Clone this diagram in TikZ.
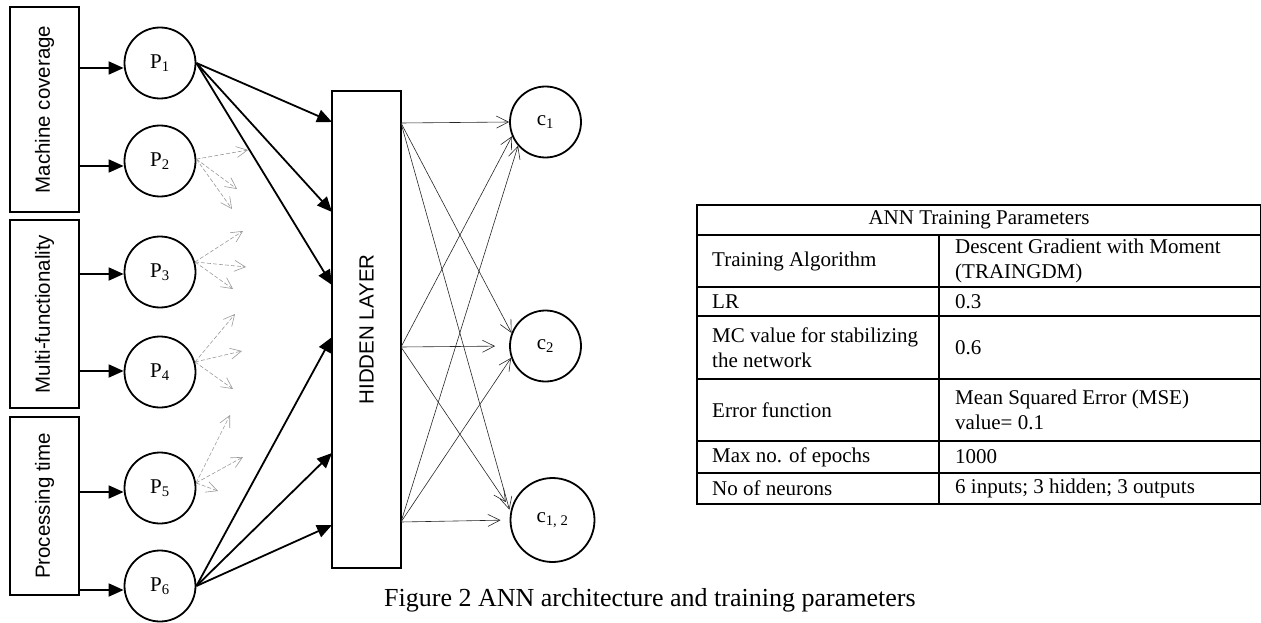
\documentclass[tikz,border=0pt]{standalone}
\usepackage{fontspec}
\setmainfont{Liberation Serif}
\setsansfont{Liberation Sans}
\usetikzlibrary{arrows.meta,calc}
\begin{document}
\begin{tikzpicture}[x=1pt,y=-1pt,
  inbox/.style={draw, line width=1.8pt, minimum width=69pt, inner sep=0pt},
  sidetext/.style={rotate=90, font=\sffamily\fontsize{20.5}{24}\selectfont, inner sep=0pt},
  neuron/.style={draw, circle, line width=1.8pt, minimum size=71pt, inner sep=0pt, font=\fontsize{21}{24}\selectfont},
  blk/.style={line width=1.8pt, -{Triangle[length=15pt,width=13pt]}},
  outarr/.style={line width=0.6pt, draw=black!85, -{Straight Barb[length=12pt,width=12pt,line width=0.6pt]}},
  stub/.style={line width=0.6pt, draw=black!40, dash pattern=on 4pt off 2pt, -{Straight Barb[length=11pt,width=11pt,line width=0.6pt]}},
  tline/.style={line width=1.8pt},
  cell/.style={anchor=west, inner sep=0pt, align=left, font=\fontsize{21}{25}\selectfont},
  caption/.style={anchor=base west, inner sep=0pt, font=\fontsize{26}{30}\selectfont}]
\useasboundingbox (0,0) rectangle (1261,623);

% input groups
\node[inbox, minimum height=205pt] (mc) at (44.5,109.5) {};
\node[sidetext] (mct) at (mc) {Machine coverage};
\node[inbox, minimum height=188pt] (mf) at (44.5,314) {};
\node[sidetext] (mft) at (mf) {Multi-functionality};
\node[inbox, minimum height=178pt] (pt) at (44.5,506) {};
\node[sidetext] (ptt) at (pt) {Processing time};

% input neurons
\node[neuron] (P1) at (160,63) {P\textsubscript{1}};
\node[neuron] (P2) at (160,161) {P\textsubscript{2}};
\node[neuron] (P3) at (160,272) {P\textsubscript{3}};
\node[neuron] (P4) at (160,372) {P\textsubscript{4}};
\node[neuron] (P5) at (160,488) {P\textsubscript{5}};
\node[neuron] (P6) at (160,586) {P\textsubscript{6}};

% hidden layer
\node[inbox, minimum height=477pt] (H) at (366.5,329.5) {};
\node[sidetext] (Ht) at (H) {HIDDEN LAYER};

% output neurons
\node[neuron] (c1) at (545.5,122) {c\textsubscript{1}};
\node[neuron] (c2) at (545.5,346) {c\textsubscript{2}};
\node[neuron, minimum size=84pt] (c12) at (552.5,520) {c\textsubscript{1, 2}};

% group -> input arrows
\draw[blk] (mc.east |- 0,68) -- ($(P1.west)+(0,5)$);
\draw[blk] (mc.east |- 0,166) -- ($(P2.west)+(0,5)$);
\draw[blk] (mf.east |- 0,274) -- ($(P3.west)+(0,2)$);
\draw[blk] (mf.east |- 0,371) -- ($(P4.west)+(0,-1)$);
\draw[blk] (pt.east |- 0,492) -- ($(P5.west)+(0,4)$);
\draw[blk] (pt.east |- 0,590) -- ($(P6.west)+(0,4)$);

% hidden layer entry points
\coordinate (q1) at (332,122);
\coordinate (q2) at (332,212);
\coordinate (q3) at (332,285);
\coordinate (q4) at (332,337);
\coordinate (q5) at (332,453);
\coordinate (q6) at (332,525);
\draw[blk] (P1.east) -- (q1);
\draw[blk] (P1.east) -- (q2);
\draw[blk] (P1.east) -- (q3);
\draw[blk] (P6.east) -- (q4);
\draw[blk] (P6.east) -- (q5);
\draw[blk] (P6.east) -- (q6);

% grey dashed stubs
\coordinate (s21) at (248,150); \coordinate (s22) at (237,189); \coordinate (s23) at (232,209);
\coordinate (s31) at (243,231); \coordinate (s32) at (246,267); \coordinate (s33) at (233,289);
\coordinate (s41) at (235,314); \coordinate (s42) at (242,351); \coordinate (s43) at (233,389);
\coordinate (s51) at (230,415); \coordinate (s52) at (243,457); \coordinate (s53) at (218,491);
\foreach \t in {s21,s22,s23} \draw[stub] (P2.3) -- (\t);
\foreach \t in {s31,s32,s33} \draw[stub] (P3.16) -- (\t);
\foreach \t in {s41,s42,s43} \draw[stub] (P4.16) -- (\t);
\foreach \t in {s51,s52,s53} \draw[stub] (P5.8) -- (\t);

% hidden -> output
\coordinate (h1) at (401,123);
\coordinate (h2) at (401,347);
\coordinate (h3) at (401,522);
\draw[outarr] (h1) -- (c1.west);
\draw[outarr] (h1) -- (c2.159);
\draw[outarr, shorten >=3pt] (h1) -- (c12.170);
\draw[outarr] (h2) -- (c1.203);
\draw[outarr, shorten >=14pt] (h2) -- (c2.west);
\draw[outarr, shorten >=9pt] (h2) -- (c12.166);
\draw[outarr] (h3) -- (c1.221);
\draw[outarr] (h3) -- (c2.199);
\draw[outarr, shorten >=9pt] (h3) -- (c12.west);

% table
\draw[tline] (697,205) rectangle (1261,504);
\foreach \yy in {235,287,316,379,441,473} \draw[tline] (697,\yy) -- (1261,\yy);
\draw[tline] (939,235) -- (939,504);
\node[cell, anchor=center] (tt) at (979,220) {ANN Training Parameters};
\node[cell] (l1) at (712,261) {Training Algorithm};
\node[cell] (r1) at (955,261) {Descent Gradient with Moment\\(TRAINGDM)};
\node[cell] (l2) at (712,301.5) {LR};
\node[cell] (r2) at (955,301.5) {0.3};
\node[cell] (l3) at (712,347.5) {MC value for stabilizing\\the network};
\node[cell] (r3) at (955,347.5) {0.6};
\node[cell] (l4) at (712,410) {Error function};
\node[cell] (r4) at (955,410) {Mean Squared Error (MSE)\\value= 0.1};
\node[cell] (l5) at (712,457) {Max no. of epochs};
\node[cell] (r5) at (955,457) {1000};
\node[cell] (l6) at (712,488.5) {No of neurons};
\node[cell] (r6) at (955,488.5) {6 inputs; 3 hidden; 3 outputs};

% caption
\node[caption] (cap) at (384,606) {Figure 2 ANN architecture and training parameters};
\end{tikzpicture}
\end{document}
